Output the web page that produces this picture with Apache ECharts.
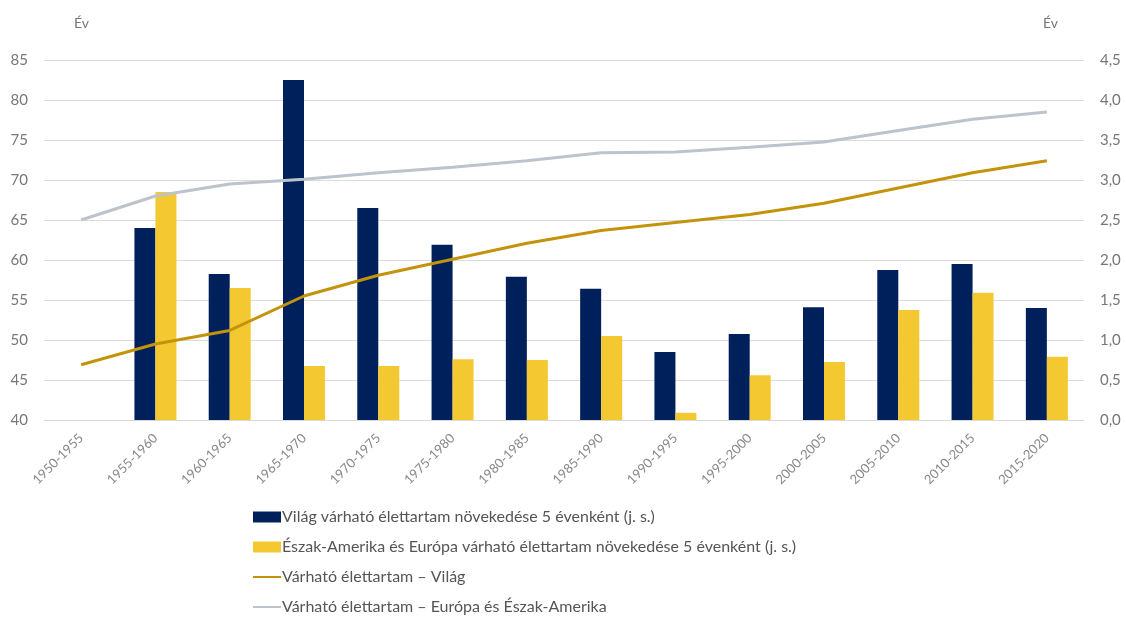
<!DOCTYPE html>
<html>
<head>
<meta charset="utf-8">
<script src="https://cdn.jsdelivr.net/npm/echarts@6/dist/echarts.min.js"></script>
<style>
  html, body { margin: 0; padding: 0; background: #fff; }
  #chart { width: 1126px; height: 617px; }
</style>
</head>
<body>
<div id="chart"></div>
<script>
var periods = ['1950-1955', '1955-1960', '1960-1965', '1965-1970', '1970-1975', '1975-1980', '1980-1985',
  '1985-1990', '1990-1995', '1995-2000', '2000-2005', '2005-2010', '2010-2015', '2015-2020']

// növekedés 5 évenként (jobb skála)
var worldGain = [null, 2.4, 1.825, 4.25, 2.65, 2.19, 1.79, 1.64, 0.85, 1.075, 1.41, 1.875, 1.95, 1.40]
var naEuGain = [null, 2.85, 1.65, 0.675, 0.675, 0.76, 0.75, 1.05, 0.09, 0.56, 0.725, 1.375, 1.59, 0.79]

// várható élettartam (bal skála)
var worldLife = [46.9, 49.5, 51.2, 55.5, 58.1, 60.1, 62.1, 63.7, 64.7, 65.7, 67.1, 69.0, 70.9, 72.4]
var euNaLife = [65.0, 68.0, 69.5, 70.1, 70.9, 71.6, 72.4, 73.4, 73.5, 74.1, 74.75, 76.2, 77.6, 78.5]

var names = [
  'Világ várható élettartam növekedése 5 évenként (j. s.)',
  'Észak-Amerika és Európa várható élettartam növekedése 5 évenként (j. s.)',
  'Várható élettartam – Világ',
  'Várható élettartam – Európa és Észak-Amerika'
]

var font = 'Lato'
var grey = '#777'

var chart = echarts.init(document.getElementById('chart'))

var option = {
  animation: false,
  textStyle: { fontFamily: font },
  grid: { left: 44, right: 42, top: 60, bottom: 197 },
  legend: {
    orient: 'vertical',
    left: 252,
    top: 509,
    height: 140,
    padding: 0,
    itemGap: 14,
    itemWidth: 28,
    itemHeight: 11,
    textStyle: { fontFamily: font, fontSize: 16, color: '#555', padding: [0, 0, 0, -4] },
    data: [
      { name: names[0], icon: 'rect' },
      { name: names[1], icon: 'rect' },
      { name: names[2], itemStyle: { opacity: 0 } },
      { name: names[3], itemStyle: { opacity: 0 } }
    ]
  },
  xAxis: {
    type: 'category',
    data: periods,
    axisLine: { show: true, lineStyle: { color: '#d9d9d9' } },
    axisTick: { show: false },
    axisLabel: { rotate: 45, color: '#888', fontSize: 13, margin: 16, interval: 0 }
  },
  yAxis: [
    {
      type: 'value',
      min: 40, max: 85, interval: 5,
      name: 'Év',
      nameLocation: 'end',
      nameGap: 30,
      nameTextStyle: { color: grey, fontSize: 14, align: 'left', padding: [0, 0, 0, 30] },
      axisLabel: { color: grey, fontSize: 15, margin: 16 },
      splitLine: { lineStyle: { color: '#dcdcdc' } },
      axisLine: { show: false },
      axisTick: { show: false }
    },
    {
      type: 'value',
      min: 0, max: 4.5, interval: 0.5,
      name: 'Év',
      nameLocation: 'end',
      nameGap: 30,
      nameTextStyle: { color: grey, fontSize: 14, align: 'right', padding: [0, 26, 0, 0] },
      axisLabel: {
        color: grey, fontSize: 15, margin: 16,
        formatter: function (v) { return v.toFixed(1).replace('.', ',') }
      },
      splitLine: { show: false },
      axisLine: { show: false },
      axisTick: { show: false }
    }
  ],
  series: [
    {
      name: names[0], type: 'bar', yAxisIndex: 1, data: worldGain,
      barWidth: 21, barGap: '0%',
      itemStyle: { color: '#00205b' }
    },
    {
      name: names[1], type: 'bar', yAxisIndex: 1, data: naEuGain,
      barWidth: 21, barGap: '0%',
      itemStyle: { color: '#f4c830' }
    },
    {
      name: names[2], type: 'line', yAxisIndex: 0, data: worldLife,
      symbol: 'none', lineStyle: { color: '#c4930c', width: 3 }, itemStyle: { color: '#c4930c' }
    },
    {
      name: names[3], type: 'line', yAxisIndex: 0, data: euNaLife,
      symbol: 'none', lineStyle: { color: '#bcc3ca', width: 3 }, itemStyle: { color: '#bcc3ca' }
    }
  ]
}

chart.setOption(option)
</script>
</body>
</html>
